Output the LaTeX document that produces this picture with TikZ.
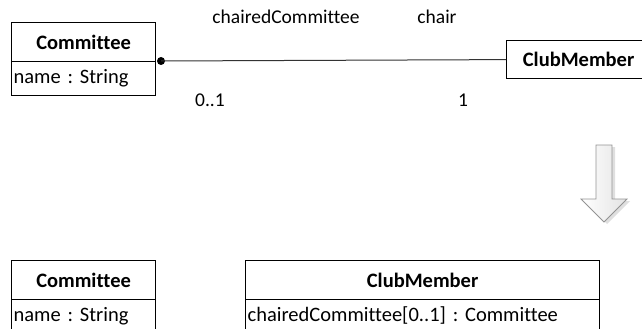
\documentclass[tikz,border=0pt]{standalone}
\usepackage{fontspec}
\setmainfont[Ligatures=NoCommon]{Carlito}
\begin{document}
\frenchspacing
\begin{tikzpicture}[x=1pt,y=-1pt,
  every node/.style={font=\fontsize{20.5}{24}\selectfont\frenchspacing, inner sep=0pt},
  box/.style={draw=black, line width=1.2pt, rectangle, minimum width=#1, anchor=north west},
  hdr/.style={box=#1, minimum height=39pt, font=\fontsize{20.5}{24}\selectfont\bfseries},
  attr/.style={box=#1, minimum height=34pt, text height=14pt, text depth=4pt, align=left, inner xsep=2pt, text width=#1-4pt},
  lbl/.style={font=\fontsize{19.5}{23}\selectfont},
  assoc/.style={draw=black!80, line width=1pt}
]
\useasboundingbox (0,0) rectangle (642,329);

% ---- top diagram ----
\node[hdr=144pt] (c1) at (11,22) {Committee};
\node[attr=144pt] (c1a) at (11,61) {name : String};
\node[hdr=144pt, minimum height=38pt, text width=136pt, align=center] (m1) at (506,40) {ClubMember};
\coordinate (dotc) at (161,61);
\fill (dotc) circle (4pt);
\draw[assoc] (dotc) -- (m1.west);

\node[lbl] (rn1) at (286,17) {chairedCommittee};
\node[lbl] (rn2) at (437,17) {chair};
\node[lbl] (mu1) at (210,100) {0..1};
\node[lbl] (mu2) at (463,100) {1};

% ---- transformation arrow ----
\fill[gray!25, xshift=3pt, yshift=-2pt] (596,145) -- (612,145) -- (612,199) -- (627,199) -- (604,222) -- (581,199) -- (596,199) -- cycle;
\shade[left color=white, right color=gray!22, draw=gray!85, line width=0.8pt] (596,145) -- (612,145) -- (612,199) -- (627,199) -- (604,222) -- (581,199) -- (596,199) -- cycle;

% ---- bottom diagram ----
\node[hdr=144pt] (c2) at (11,260) {Committee};
\node[attr=144pt] (c2a) at (11,299) {name : String};
\node[hdr=354pt] (m2) at (245,260) {ClubMember};
\node[attr=354pt] (m2a) at (245,299) {chairedCommittee[0..1] : Committee};
\end{tikzpicture}
\end{document}
